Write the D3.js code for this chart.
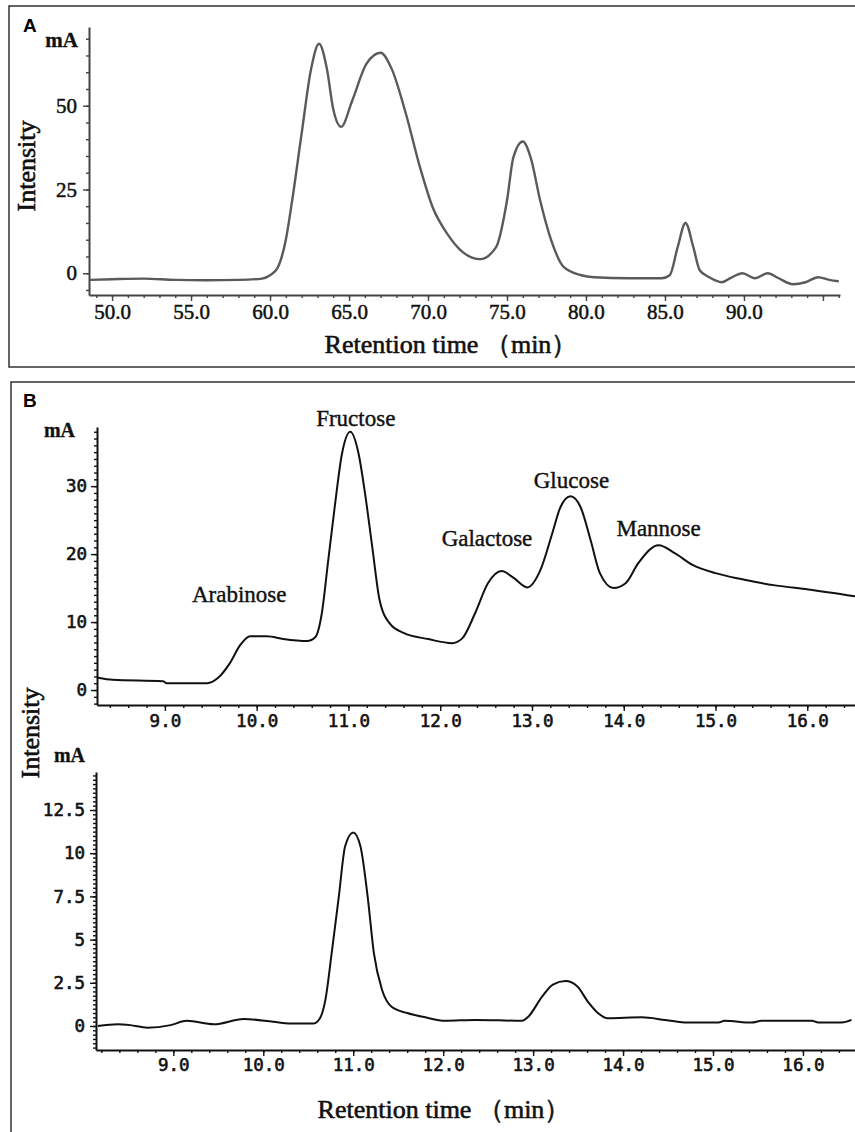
<!DOCTYPE html>
<html>
<head>
<meta charset="utf-8">
<script src="https://cdn.jsdelivr.net/npm/d3@7"></script>
<style>
  body { margin: 0; background: #fff; }
  svg { display: block; }
</style>
</head>
<body>
<svg id="chart" width="855" height="1132"></svg>
<script>
// ---- panel A: chromatogram (gel permeation)
var timeA = [48.6, 50.0, 52.0, 54.0, 56.0, 58.0, 59.5, 60.0, 60.5, 61.0, 61.4, 62.0, 62.6, 63.1, 63.6, 64.0, 64.5, 65.2, 66.1, 67.0, 67.7, 68.6, 69.5, 70.3, 71.2, 72.2, 73.3, 74.3, 75.0, 75.4, 76.0, 76.5, 77.1, 77.8, 78.6, 79.7, 80.5, 82.7, 84.8, 85.3, 85.8, 86.3, 86.8, 87.2, 87.8, 88.6, 89.2, 89.9, 90.7, 91.5, 92.2, 93.1, 93.9, 94.7, 95.4, 96.0];
var intensityA = [-2.0, -1.8, -1.6, -2.0, -2.1, -2.0, -1.6, -0.6, 1.8, 10, 21.7, 41.7, 61, 68.5, 61, 49, 43.7, 51.5, 62.5, 65.8, 61, 47.6, 31.5, 19.6, 11.9, 6.3, 4.2, 7.7, 21.7, 34.5, 39.3, 34.5, 21.7, 9.8, 1.8, -0.6, -1.2, -1.5, -1.5, -0.6, 7.7, 15, 7.7, 0.9, -1.2, -2.7, -1.3, 0, -1.5, 0, -1.5, -3.3, -2.7, -1.2, -2.0, -2.4];
var ticksA = [50, 55, 60, 65, 70, 75, 80, 85, 90];

// ---- panel B (top): mixed monosaccharide standards
var timeB1 = [8.27, 8.43, 8.98, 9.02, 9.46, 9.58, 9.71, 9.82, 9.93, 10.11, 10.29, 10.55, 10.64, 10.71, 10.78, 10.85, 10.93, 11.02, 11.11, 11.18, 11.26, 11.34, 11.45, 11.6, 11.87, 12.13, 12.24, 12.38, 12.52, 12.67, 12.8, 12.95, 13.09, 13.22, 13.31, 13.42, 13.53, 13.64, 13.74, 13.89, 14.02, 14.16, 14.38, 14.56, 14.75, 15.0, 15.29, 15.65, 16.01, 16.52];
var intensityB1 = [1.8, 1.5, 1.3, 1.0, 1.0, 1.8, 4.0, 6.6, 7.9, 7.9, 7.5, 7.2, 7.8, 11.3, 19.1, 26.9, 34.8, 38.0, 34.8, 29, 21, 13.2, 9.8, 8.4, 7.5, 6.9, 7.6, 11.3, 15.7, 17.5, 16.5, 15.1, 17.6, 23, 26.9, 28.5, 26.9, 22, 17.2, 15, 15.7, 18.7, 21.3, 20.1, 18.4, 17.2, 16.3, 15.4, 14.8, 13.8];
var sugarNames = ["Arabinose", "Fructose", "Galactose", "Glucose", "Mannose"];
var sugarTimes = [9.81, 11.08, 12.51, 13.43, 14.38];
var sugarLabelValues = [12.9, 38.8, 21.2, 29.7, 22.6];

// ---- panel B (bottom): polysaccharide hydrolysate
var timeB2 = [8.16, 8.38, 8.52, 8.71, 8.97, 9.15, 9.45, 9.78, 10.11, 10.3, 10.56, 10.63, 10.69, 10.76, 10.84, 10.91, 11.0, 11.08, 11.16, 11.23, 11.32, 11.43, 11.6, 11.8, 12.02, 12.36, 12.88, 12.94, 13.1, 13.22, 13.36, 13.49, 13.61, 13.72, 13.83, 14.21, 14.47, 14.72, 15.06, 15.13, 15.43, 15.54, 16.1, 16.17, 16.43, 16.54];
var intensityB2 = [0.0, 0.1, 0.05, -0.1, 0.05, 0.3, 0.1, 0.4, 0.25, 0.15, 0.15, 0.45, 1.5, 4.2, 7.5, 10.4, 11.2, 10.4, 7.5, 4.2, 2.1, 1.1, 0.75, 0.5, 0.3, 0.35, 0.3, 0.5, 1.7, 2.4, 2.6, 2.3, 1.4, 0.75, 0.45, 0.5, 0.35, 0.2, 0.2, 0.3, 0.2, 0.3, 0.3, 0.2, 0.2, 0.35];
var ticksB = [9, 10, 11, 12, 13, 14, 15, 16];
var yTicksB1 = [0, 10, 20, 30];
var yTicksB2 = [0, 2.5, 5, 7.5, 10, 12.5];

var svg = d3.select("#chart");
var serif = '"Liberation Serif", "Times New Roman", serif';
var mono = '"DejaVu Sans Mono", monospace';

// heavier text, like the scanned original
function ink(sel, w) {
    return sel.attr("fill", "#111").attr("stroke", "#111").attr("stroke-width", w);
}

// frames
svg.append("rect").attr("x", 9).attr("y", 6).attr("width", 860).attr("height", 361)
    .attr("fill", "none").attr("stroke", "#333").attr("stroke-width", 1.5);
svg.append("rect").attr("x", 11).attr("y", 382).attr("width", 860).attr("height", 770)
    .attr("fill", "none").attr("stroke", "#333").attr("stroke-width", 1.5);

svg.append("text").attr("x", 23).attr("y", 32).text("A")
    .style("font-family", "Liberation Sans, Arial, sans-serif").style("font-weight", "bold").style("font-size", "19px");
svg.append("text").attr("x", 23).attr("y", 407).text("B")
    .style("font-family", "Liberation Sans, Arial, sans-serif").style("font-weight", "bold").style("font-size", "19px");

function pairs(t, v) { return t.map(function(d, i) { return [d, v[i]]; }); }

function drawAxes(g, x, y, opt) {
    // minor ticks
    g.append("g").attr("transform", "translate(0," + opt.bottom + ")")
        .call(d3.axisBottom(x).tickValues(opt.xMinor).tickSize(opt.minorSize).tickSizeOuter(0).tickFormat(""))
        .call(function(a) { a.select(".domain").remove(); });
    g.append("g").attr("transform", "translate(" + opt.left + ",0)")
        .call(d3.axisLeft(y).tickValues(opt.yMinor).tickSize(opt.minorSize).tickSizeOuter(0).tickFormat(""))
        .call(function(a) { a.select(".domain").remove(); });
    // major ticks + labels
    var xa = g.append("g").attr("transform", "translate(0," + opt.bottom + ")")
        .call(d3.axisBottom(x).tickValues(opt.xMajor).tickSize(opt.majorSize).tickPadding(opt.xPad).tickSizeOuter(0).tickFormat(opt.xFormat));
    var ya = g.append("g").attr("transform", "translate(" + opt.left + ",0)")
        .call(d3.axisLeft(y).tickValues(opt.yMajor).tickSize(opt.majorSize).tickPadding(opt.yPad).tickSizeOuter(0).tickFormat(opt.yFormat));
    [xa, ya].forEach(function(a) {
        ink(a.selectAll("text"), opt.textStroke)
            .style("font-family", opt.font).style("font-size", opt.fontSize).style("font-weight", opt.fontWeight);
    });
    g.selectAll("line").attr("stroke", opt.axisColor).attr("stroke-width", 1.4);
    g.selectAll(".domain").attr("stroke", opt.axisColor).attr("stroke-width", 2);
}

var curve = d3.curveMonotoneX;

// ---------------- Panel A
var xA = d3.scaleLinear().domain([48.54, 96.08]).range([89, 840]);
var yA = d3.scaleLinear().domain([-6.5, 73.5]).range([295, 27]);
var gA = svg.append("g");
drawAxes(gA, xA, yA, {
    bottom: 295, left: 89,
    xMinor: d3.range(49, 97, 1), yMinor: d3.range(-5, 71, 5),
    xMajor: [50, 55, 60, 65, 70, 75, 80, 85, 90, 95], yMajor: [0, 25, 50],
    xFormat: function(d) { return ticksA.indexOf(d) >= 0 ? d.toFixed(1) : ""; },
    yFormat: function(d) { return d; },
    minorSize: 3, majorSize: 6, xPad: 3, yPad: 6,
    font: serif, fontSize: "21px", fontWeight: "normal", axisColor: "#444", textStroke: 0.5
});
gA.append("path").datum(pairs(timeA, intensityA))
    .attr("fill", "none").attr("stroke", "#5a5a5a").attr("stroke-width", 2.4)
    .attr("d", d3.line().x(function(d) { return xA(d[0]); }).y(function(d) { return yA(d[1]); }).curve(curve));
ink(gA.append("text").attr("x", 78).attr("y", 47).attr("text-anchor", "end").text("mA"), 0.3)
    .style("font-family", serif).style("font-weight", "bold").style("font-size", "21px");
ink(gA.append("text").attr("transform", "translate(35,166) rotate(-90)").attr("text-anchor", "middle").text("Intensity"), 0.6)
    .style("font-family", serif).style("font-size", "26px");
ink(gA.append("text").attr("x", 451).attr("y", 353).attr("text-anchor", "middle").text("Retention time （min）"), 0.6)
    .style("font-family", serif).style("font-size", "26px");

// ---------------- Panel B top
var xB1 = d3.scaleLinear().domain([8.26, 16.52]).range([97, 855]);
var yB1 = d3.scaleLinear().domain([-2.2, 38.7]).range([705, 427]);
var gB1 = svg.append("g");
drawAxes(gB1, xB1, yB1, {
    bottom: 705, left: 97,
    xMinor: d3.range(8.4, 16.6, 0.2), yMinor: d3.range(-2, 39, 1),
    xMajor: ticksB, yMajor: yTicksB1,
    xFormat: function(d) { return d.toFixed(1); }, yFormat: function(d) { return d; },
    minorSize: 3, majorSize: 6, xPad: 4, yPad: 4,
    font: mono, fontSize: "17.5px", fontWeight: "normal", axisColor: "#111", textStroke: 0.6
});
gB1.append("path").datum(pairs(timeB1, intensityB1))
    .attr("fill", "none").attr("stroke", "#111").attr("stroke-width", 2)
    .attr("d", d3.line().x(function(d) { return xB1(d[0]); }).y(function(d) { return yB1(d[1]); }).curve(curve));
ink(gB1.selectAll(".sugar").data(sugarNames).enter().append("text")
    .attr("class", "sugar")
    .attr("x", function(d, i) { return xB1(sugarTimes[i]); })
    .attr("y", function(d, i) { return yB1(sugarLabelValues[i]); })
    .attr("text-anchor", "middle").text(function(d) { return d; }), 0.4)
    .style("font-family", serif).style("font-size", "23px");
ink(gB1.append("text").attr("x", 75).attr("y", 437).attr("text-anchor", "end").text("mA"), 0.3)
    .style("font-family", serif).style("font-weight", "bold").style("font-size", "20px");

// ---------------- Panel B bottom
var xB2 = d3.scaleLinear().domain([8.14, 16.59]).range([96, 856]);
var yB2 = d3.scaleLinear().domain([-1.39, 14.7]).range([1050, 772]);
var gB2 = svg.append("g");
drawAxes(gB2, xB2, yB2, {
    bottom: 1050, left: 96,
    xMinor: d3.range(8.2, 16.6, 0.2), yMinor: d3.range(-1.25, 14.7, 0.25),
    xMajor: ticksB, yMajor: yTicksB2,
    xFormat: function(d) { return d.toFixed(1); }, yFormat: function(d) { return d; },
    minorSize: 3, majorSize: 6, xPad: 3, yPad: 5,
    font: mono, fontSize: "17.5px", fontWeight: "normal", axisColor: "#111", textStroke: 0.6
});
gB2.append("path").datum(pairs(timeB2, intensityB2))
    .attr("fill", "none").attr("stroke", "#111").attr("stroke-width", 2)
    .attr("d", d3.line().x(function(d) { return xB2(d[0]); }).y(function(d) { return yB2(d[1]); }).curve(curve));
ink(gB2.append("text").attr("x", 85).attr("y", 762).attr("text-anchor", "end").text("mA"), 0.3)
    .style("font-family", serif).style("font-weight", "bold").style("font-size", "20px");
ink(svg.append("text").attr("transform", "translate(39,733) rotate(-90)").attr("text-anchor", "middle").text("Intensity"), 0.6)
    .style("font-family", serif).style("font-size", "26px");
ink(svg.append("text").attr("x", 444).attr("y", 1118).attr("text-anchor", "middle").text("Retention time （min）"), 0.6)
    .style("font-family", serif).style("font-size", "26px");
</script>
</body>
</html>
